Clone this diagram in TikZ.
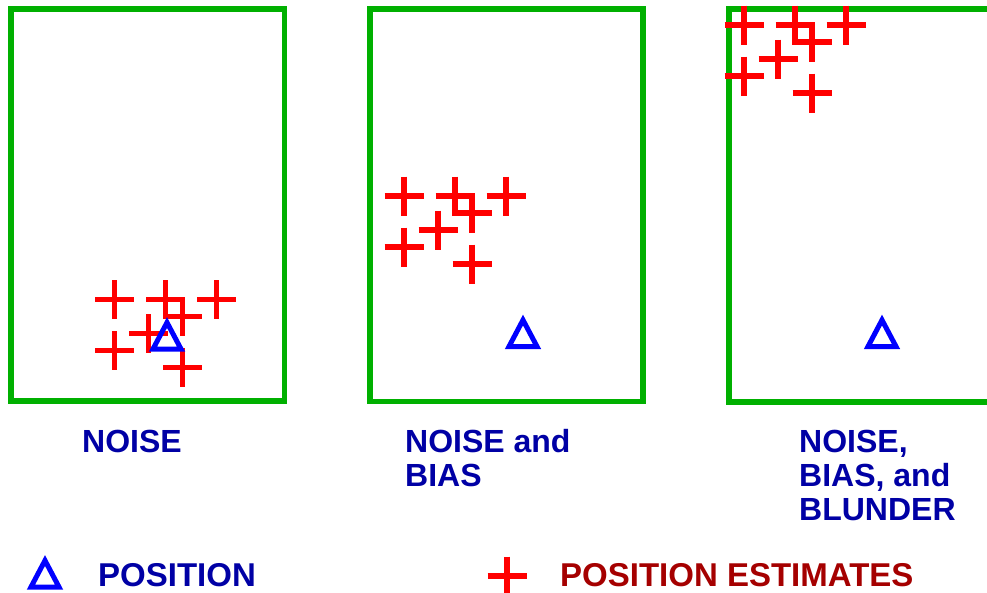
\documentclass[tikz,border=0pt]{standalone}
\usepackage{fontspec}
\setmainfont{Liberation Sans}
\definecolor{boxgreen}{RGB}{0,176,0}
\definecolor{estred}{RGB}{255,0,0}
\definecolor{posblue}{RGB}{0,0,255}
\definecolor{labblue}{RGB}{0,0,165}
\definecolor{labred}{RGB}{165,0,0}
\tikzset{
  panelbox/.style={draw=boxgreen, line width=5.5pt},
  crossline/.style={draw=estred, line width=5.5pt},
  triline/.style={draw=posblue, line width=5pt, line join=miter},
  est/.pic={\draw[crossline] (-19.5,0) -- (19.5,0) (0,-19.5) -- (0,19.5);},
  pos/.pic={\draw[triline] (0,-13.5) -- (14,13) -- (-14,13) -- cycle;},
  cluster/.pic={
    \pic at (0,0) {est}; \pic at (51,0) {est}; \pic at (102,0) {est};
    \pic at (68,17) {est}; \pic at (34,34) {est}; \pic at (0,51) {est};
    \pic at (68,68) {est};},
  lab/.style={anchor=base west, inner sep=0pt, text=labblue,
    font=\bfseries\fontsize{32}{34}\selectfont},
  leg/.style={lab, font=\bfseries\fontsize{33}{34}\selectfont},
}
\begin{document}
\begin{tikzpicture}[x=1pt,y=-1pt]
\useasboundingbox (0,0) rectangle (987,592);
\fill[white] (0,0) rectangle (987,592);
\clip (0,0) rectangle (987,592);
% panels
\draw[panelbox] (11,9) rectangle (284.5,401);
\draw[panelbox] (370,9) rectangle (643,401.5);
\draw[panelbox] (729,9) rectangle (1002,402);
% estimates
\pic at (114.5,299.5) {cluster};
\pic at (404,196) {cluster};
\pic at (744,25) {cluster};
% true positions
\pic at (167,336) {pos};
\pic at (523,333.5) {pos};
\pic at (882,333.5) {pos};
% labels
\node[lab] (l1) at (82,452) {NOISE};
\node[lab] (l2) at (405,452) {\vtop{\hbox{NOISE and}\hbox{BIAS}}};
\node[lab] (l3) at (799,452) {\vtop{\hbox{NOISE,}\hbox{BIAS, and}\hbox{BLUNDER}}};
% legend
\pic at (45,574) {pos};
\node[leg] (lp) at (98,586) {POSITION};
\pic at (507,576) {est};
\node[leg, text=labred] (le) at (560,586) {POSITION ESTIMATES};
\end{tikzpicture}
\end{document}
